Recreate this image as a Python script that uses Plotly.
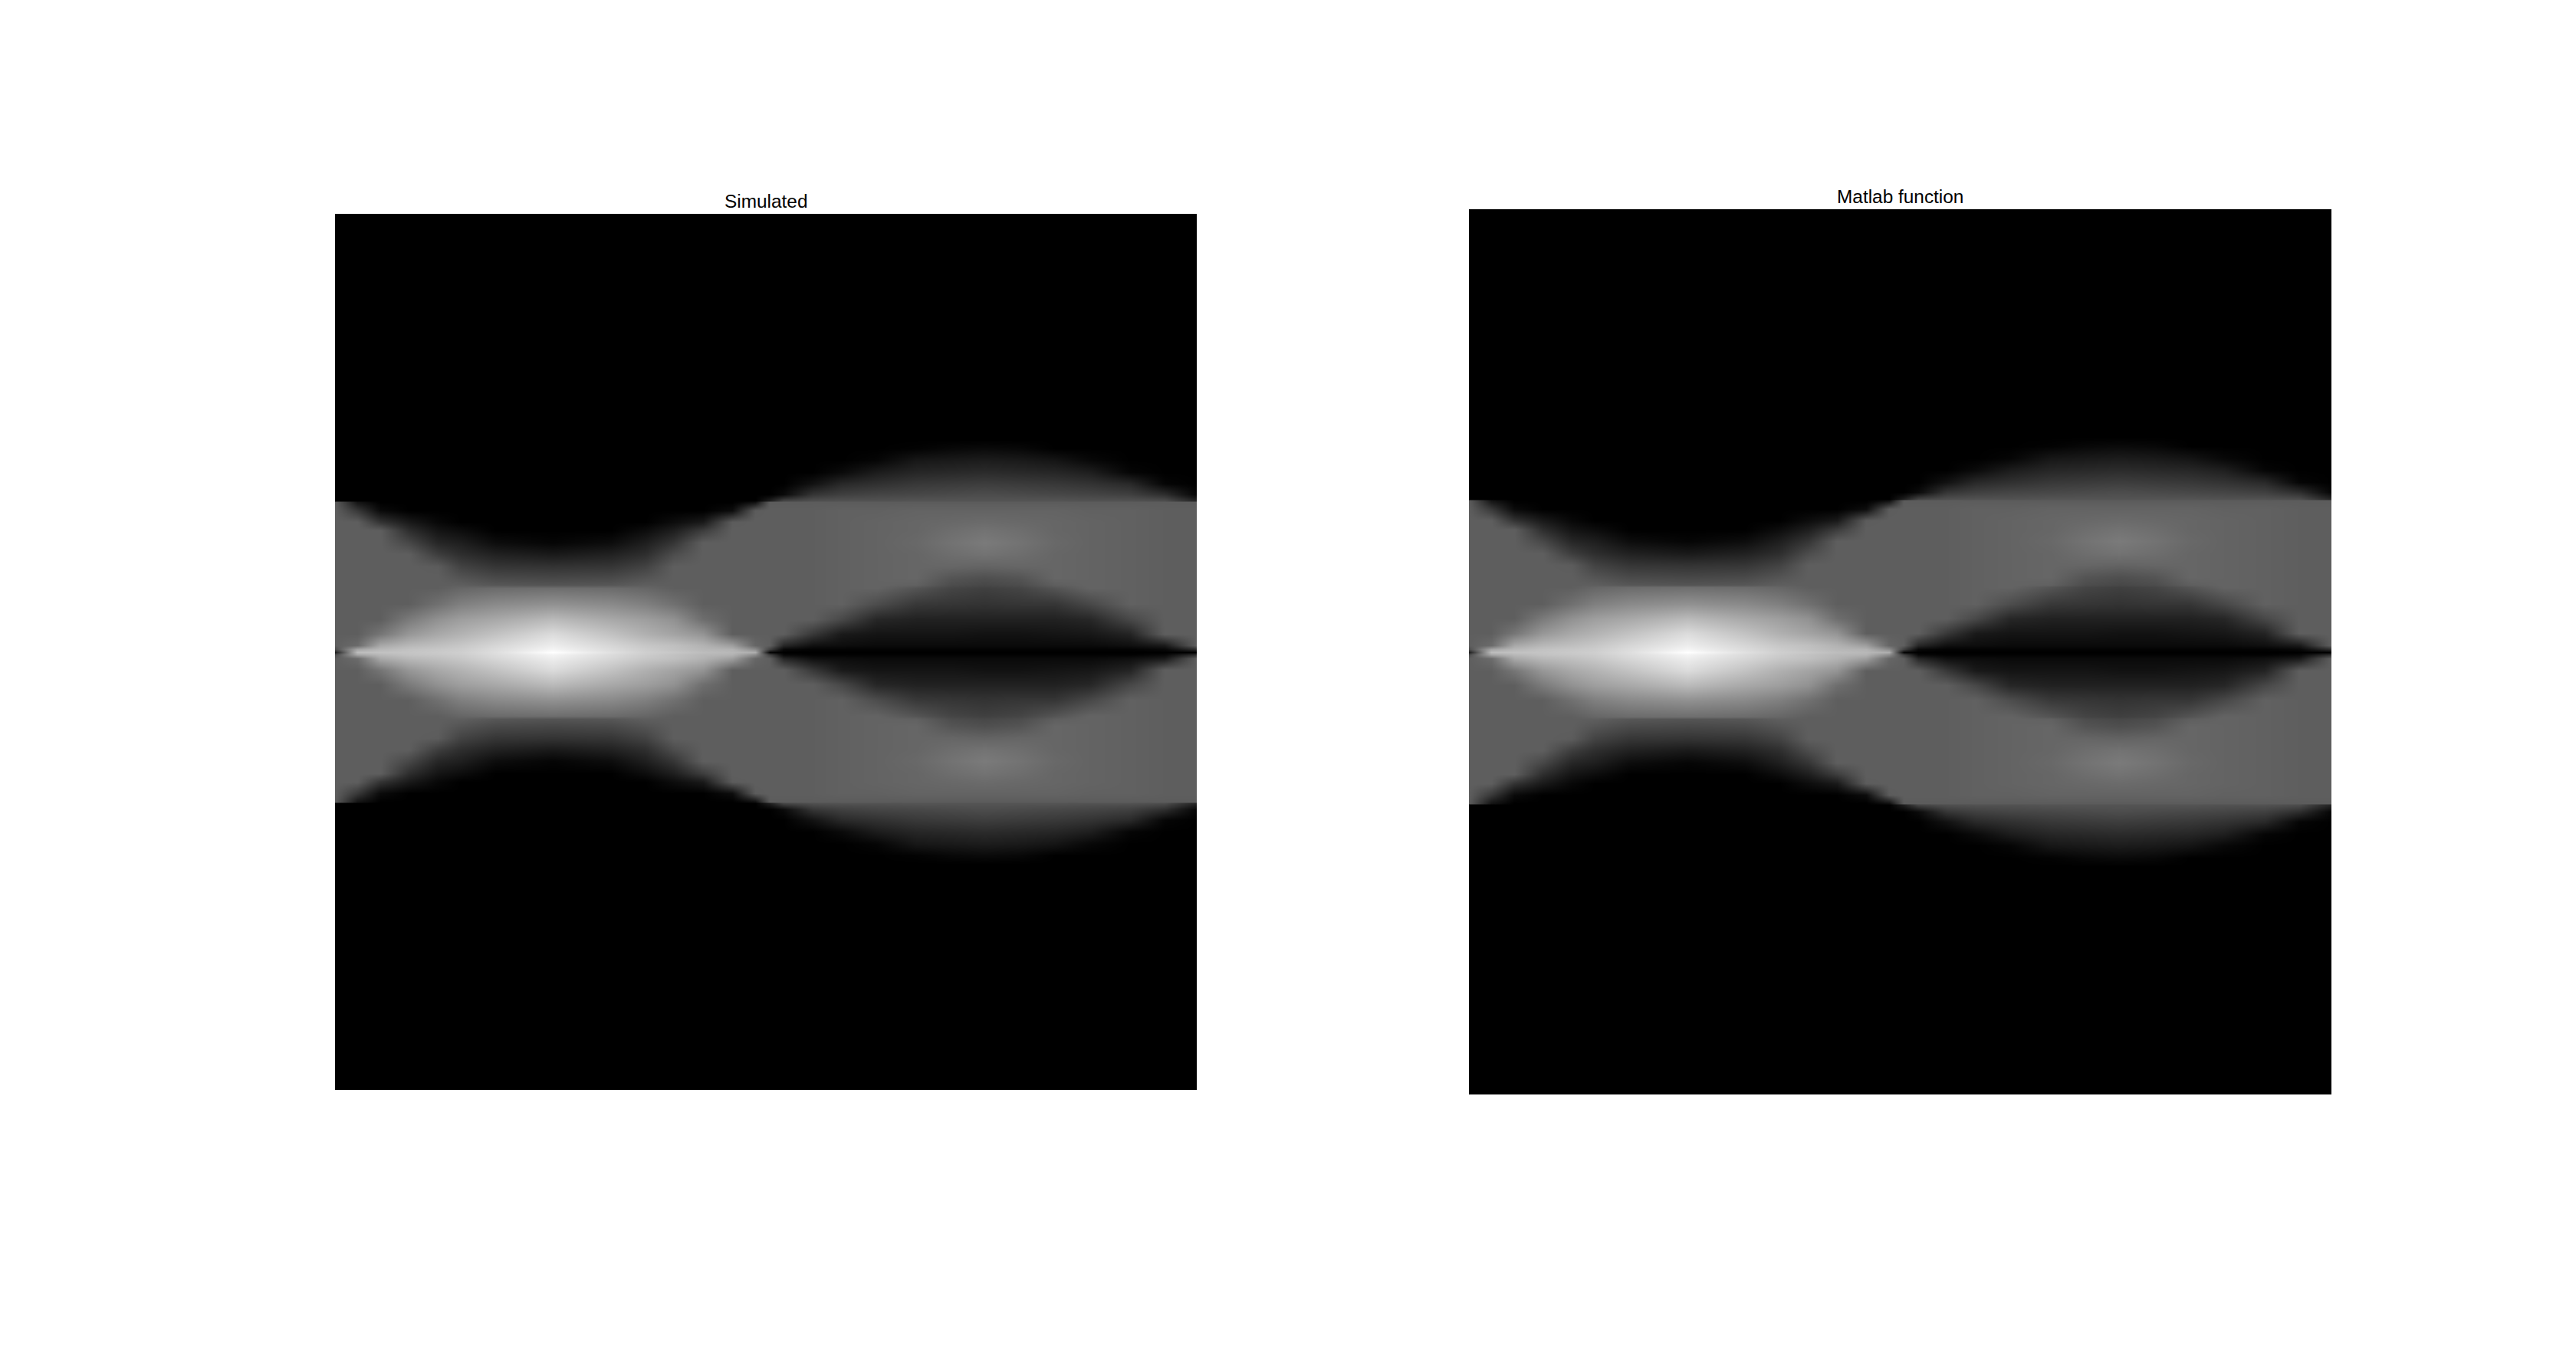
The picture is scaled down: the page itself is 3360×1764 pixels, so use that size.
import plotly.graph_objects as go

titles = ["Simulated", "Matlab function"]
angle_stops = [22,60,100,150,200,240,300,400,500,560,610,660,710,750,775,800,850,900,960,1030,1090,1148,1210,1270,1330,1400,1460,1516]
offset_stops = [-678,90,120,160,200,240,275,298,302,330,370,400,440,480,520,560,585,595,650,700,750,790,802,812,
                822,834,874,924,974,1029,1039,1064,1104,1144,1184,1224,1254,1294,1322,1326,1349,1384,1424,1464,1504,1534,2302]
gray_percent = [
[0,0,0,0,0,0,0,0,0,0,0,0,0,0, 0,0,0,0,0,0,0,0,0,0,0,0,0,0],
[0,0,0,0,0,0,0,0,0,0,0,0,0,0, 0,0,0,0,0,0,0,0,0,0,0,0,0,0],
[0,0,0,0,0,0,0,0,0,0,0,0,0,0, 0,0,0,0,0,1,3,4,3,0,0,0,0,0],
[0,0,0,0,0,0,0,0,0,0,0,0,0,0, 0,0,0,0,2,9,10,11,10,8,3,0,0,0],
[0,0,0,0,0,0,0,0,0,0,0,0,0,0, 0,0,0,4,11,15,16,17,16,15,12,2,0,0],
[0,0,0,0,0,0,0,0,0,0,0,0,0,0, 0,0,7,16,19,22,23,24,23,22,20,16,2,0],
[0,0,0,0,0,0,0,0,0,0,0,0,0,0, 0,4,21,25,27,28,29,30,29,28,27,25,18,2],
[0,0,0,0,0,0,0,0,0,0,0,0,0,0, 12,27,31,32,32,33,33,33,33,33,32,32,30,14],
[36,8,0,0,0,0,0,0,0,0,0,0,0,6, 36,36,36,36,36,36,36,36,36,36,36,36,36,36],
[37,22,4,0,0,0,0,0,0,0,0,0,5,36, 37,37,37,38,38,39,39,39,39,39,38,38,37,37],
[37,37,20,10,3,0,0,0,0,0,5,10,36,37, 37,37,37,38,39,40,41,42,41,40,39,38,37,37],
[37,37,37,18,8,5,0,0,0,5,12,24,37,37, 37,37,37,38,39,40,43,45,43,40,39,38,37,37],
[37,37,37,28,15,12,5,2,5,12,21,37,37,37, 37,37,37,38,39,41,45,48,45,41,39,38,37,37],
[37,37,37,37,24,18,13,10,13,18,30,37,37,37, 37,37,37,38,39,40,43,45,43,40,39,38,37,37],
[37,37,37,37,36,26,21,20,21,26,37,37,37,37, 37,37,37,38,39,40,40,39,40,40,39,38,37,37],
[37,37,37,37,37,33,29,28,29,33,37,37,37,37, 37,37,37,38,39,40,33,31,33,40,39,38,37,37],
[37,37,37,37,37,37,34,33,34,37,37,37,37,37, 37,37,37,38,39,38,30,28,30,37,39,38,37,37],
[37,37,37,37,37,40,42,43,42,40,37,37,37,37, 37,37,37,38,39,33,27,25,27,33,39,38,37,37],
[37,37,37,37,44,50,54,57,54,50,44,37,37,37, 37,37,37,38,30,22,21,20,21,21,28,38,37,37],
[37,37,37,48,57,62,66,73,66,62,57,43,37,37, 37,37,37,28,15,13,13,13,13,13,15,28,37,37],
[37,37,46,59,66,70,76,86,76,69,64,58,37,37, 37,37,22,10,8,8,8,7,7,8,9,14,37,37],
[37,42,66,72,75,78,84,93,84,78,75,70,62,40, 37,15,6,5,4,4,4,4,4,4,4,6,10,37],
[30,65,72,76,78,80,86,96,86,80,76,72,70,55, 25,3,1,1,1,1,1,1,1,1,1,1,3,18],
[12,74,76,77,79,81,87,100,88,81,78,74,72,68, 2,0,0,0,0,0,0,0,0,0,0,0,0,0],
[30,65,72,76,78,80,86,96,86,80,76,72,70,55, 25,3,1,1,1,1,1,1,1,1,1,1,3,18],
[37,42,66,72,75,78,84,93,84,78,75,70,62,40, 37,15,6,5,4,4,4,4,4,4,4,6,10,37],
[37,37,46,59,66,70,76,86,76,69,64,58,37,37, 37,37,22,10,8,8,8,7,7,8,9,14,37,37],
[37,37,37,48,57,62,66,73,66,62,57,43,37,37, 37,37,37,28,15,13,13,13,13,13,15,28,37,37],
[37,37,37,37,44,50,54,57,54,50,44,37,37,37, 37,37,37,38,30,22,21,20,21,21,28,38,37,37],
[37,37,37,37,37,40,42,43,42,40,37,37,37,37, 37,37,37,38,39,33,27,25,27,33,39,38,37,37],
[37,37,37,37,37,37,34,33,34,37,37,37,37,37, 37,37,37,38,39,38,30,28,30,37,39,38,37,37],
[37,37,37,37,37,33,29,28,29,33,37,37,37,37, 37,37,37,38,39,40,33,31,33,40,39,38,37,37],
[37,37,37,37,36,26,21,20,21,26,37,37,37,37, 37,37,37,38,39,40,40,39,40,40,39,38,37,37],
[37,37,37,37,24,18,13,10,13,18,30,37,37,37, 37,37,37,38,39,40,43,45,43,40,39,38,37,37],
[37,37,37,28,15,12,5,2,5,12,21,37,37,37, 37,37,37,38,39,41,45,48,45,41,39,38,37,37],
[37,37,37,18,8,5,0,0,0,5,12,24,37,37, 37,37,37,38,39,40,43,45,43,40,39,38,37,37],
[37,37,20,10,3,0,0,0,0,0,5,10,36,37, 37,37,37,38,39,40,41,42,41,40,39,38,37,37],
[37,22,4,0,0,0,0,0,0,0,0,0,5,36, 37,37,37,38,38,39,39,39,39,39,38,38,37,37],
[36,8,0,0,0,0,0,0,0,0,0,0,0,6, 36,36,36,36,36,36,36,36,36,36,36,36,36,36],
[0,0,0,0,0,0,0,0,0,0,0,0,0,0, 12,27,31,32,32,33,33,33,33,33,32,32,30,14],
[0,0,0,0,0,0,0,0,0,0,0,0,0,0, 0,4,21,25,27,28,29,30,29,28,27,25,18,2],
[0,0,0,0,0,0,0,0,0,0,0,0,0,0, 0,0,7,16,19,22,23,24,23,22,20,16,2,0],
[0,0,0,0,0,0,0,0,0,0,0,0,0,0, 0,0,0,4,11,15,16,17,16,15,12,2,0,0],
[0,0,0,0,0,0,0,0,0,0,0,0,0,0, 0,0,0,0,2,9,10,11,10,8,3,0,0,0],
[0,0,0,0,0,0,0,0,0,0,0,0,0,0, 0,0,0,0,0,1,3,4,3,0,0,0,0,0],
[0,0,0,0,0,0,0,0,0,0,0,0,0,0, 0,0,0,0,0,0,0,0,0,0,0,0,0,0],
[0,0,0,0,0,0,0,0,0,0,0,0,0,0, 0,0,0,0,0,0,0,0,0,0,0,0,0,0],
]

W, H = 3360, 1764
panels = [(437, 1561, 279, 1422), (1916, 3041, 273, 1428)]

fig = go.Figure()
for i, (l, r, t, b) in enumerate(panels):
    sfx = "" if i == 0 else "2"
    fig.add_trace(go.Heatmap(x=angle_stops, y=offset_stops, z=gray_percent, zmin=0, zmax=100,
                             colorscale=[[0, "#000000"], [1, "#ffffff"]], showscale=False,
                             zsmooth="best", hoverinfo="skip", xaxis="x" + sfx, yaxis="y" + sfx))
    axis = dict(visible=False, showgrid=False, zeroline=False, ticks="", showticklabels=False)
    fig.layout["xaxis" + sfx] = dict(axis, domain=[l / W, r / W], range=[22, 1516], anchor="y" + sfx)
    fig.layout["yaxis" + sfx] = dict(axis, domain=[1 - b / H, 1 - t / H], range=[2302, -678], anchor="x" + sfx)
    fig.add_annotation(text=titles[i], x=(l + r) / 2 / W, y=1 - t / H, xref="paper", yref="paper",
                       xanchor="center", yanchor="bottom", yshift=1, showarrow=False,
                       font=dict(family="Liberation Sans", size=24.4, color="#000000"))

fig.update_layout(width=W, height=H, margin=dict(l=0, r=0, t=0, b=0),
                  paper_bgcolor="#ffffff", plot_bgcolor="#000000", showlegend=False)
fig.write_html("out.html", config={"displayModeBar": False}, post_script="document.body.style.margin='0';")
